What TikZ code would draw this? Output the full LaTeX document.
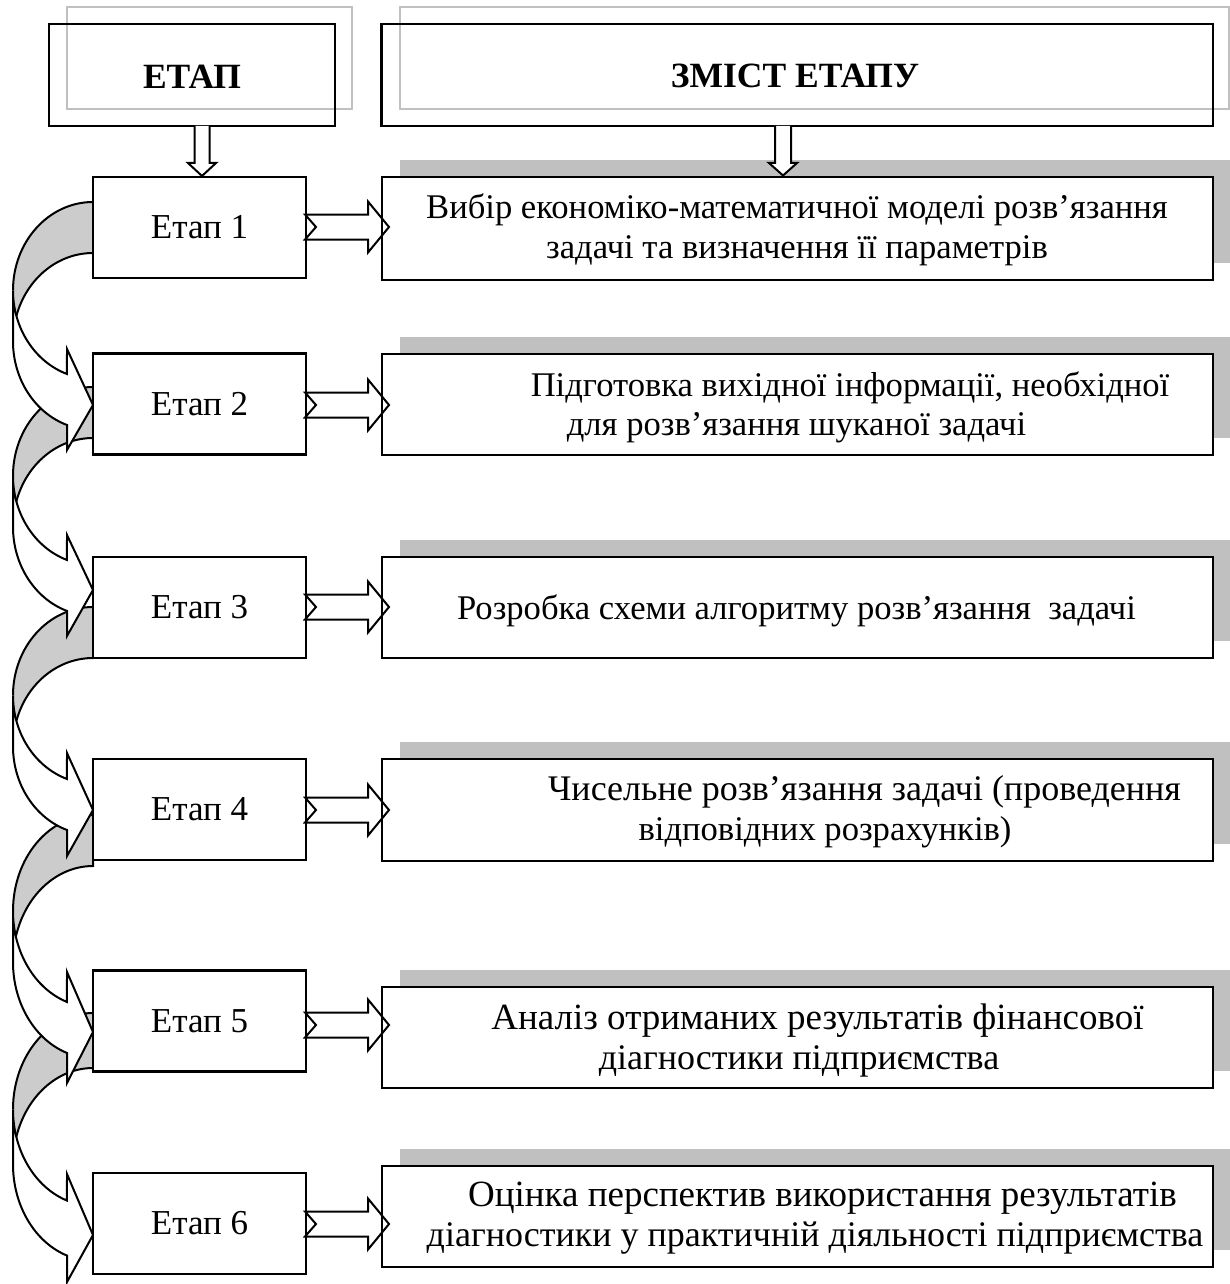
\documentclass[tikz,border=0pt]{standalone}
\usepackage{fontspec}
\setmainfont{Liberation Serif}
\definecolor{shadowgray}{RGB}{192,192,192}
\definecolor{backgray}{RGB}{204,204,204}
\definecolor{hdrgray}{RGB}{192,192,192}
\newcommand{\curvarr}[5]{% T, th, hR, dh, tip  (screen px, y down)
  \pgfmathsetmacro{\cvcA}{#1+#3}%
  \pgfmathsetmacro{\cvcB}{#1+#3+#2}%
  \pgfmathsetmacro{\cvdy}{#3*0.945751}%
  \pgfmathsetmacro{\cvyf}{\cvcA+\cvdy-#4}%
  \pgfmathsetmacro{\cvys}{\cvcB+\cvdy}%
  \pgfmathsetmacro{\cvye}{\cvcB+\cvdy+#4}%
  \pgfmathsetmacro{\cvia}{asin(#2/(2*#3))}%
  \pgfmathsetmacro{\cvTt}{#1+#2}%
  \fill[backgray] (93,-#1) arc[start angle=90, end angle={180+\cvia}, x radius=80, y radius=#3]
      arc[start angle={180-\cvia}, end angle=90, x radius=80, y radius=#3] -- cycle;
  \filldraw[curv, fill=white] (13,-\cvcA) arc[start angle=180, end angle=251.03, x radius=80, y radius=#3]
      -- (67,-\cvyf) -- (93,-#5) -- (67,-\cvye) -- (67,-\cvys)
      arc[start angle=251.03, end angle=180, x radius=80, y radius=#3] -- cycle;
  \draw[curv] (13,-\cvcA) arc[start angle=180, end angle=90, x radius=80, y radius=#3]
      -- (93,-\cvTt) arc[start angle=90, end angle={180-\cvia}, x radius=80, y radius=#3];
}
\newcommand{\rarr}[2]{% from node #1 at screen y #2
  \coordinate (rt#1) at (#1.east |- 0,-#2);
  \filldraw[blockarr] ([shift={(-1,12.5)}]rt#1) -- ++(63,0) -- ++(0,13) -- ++(21,-25.5)
     -- ++(-21,-25.5) -- ++(0,13) -- ++(-63,0) -- ++(11,12.5) -- cycle;
}
\begin{document}
\begin{tikzpicture}[x=1pt,y=1pt,
  blk/.style={draw=black, line width=2.2pt, inner sep=0pt, outer sep=0pt},
  wblk/.style={blk, fill=white},
  curv/.style={draw=black, line width=2pt, line join=miter},
  blockarr/.style={draw=black, fill=white, line width=2pt, line join=miter},
  txt/.style={font=\fontsize{35}{40}\selectfont, anchor=base, inner sep=0pt},
  txtb/.style={font=\fontsize{34.6}{40}\selectfont, anchor=base, inner sep=0pt},
  txtc/.style={font=\fontsize{36}{40}\selectfont, anchor=base, inner sep=0pt},
  txtd/.style={font=\fontsize{37}{40}\selectfont, anchor=base, inner sep=0pt},
  htxt/.style={font=\fontsize{35.5}{40}\selectfont\bfseries, anchor=base, inner sep=0pt}
]
\useasboundingbox (0,0) rectangle (1230,-1284);
\fill[white] (0,0) rectangle (1230,-1284);

% header boxes
\draw[hdrgray, line width=2pt] (67,-7) rectangle (352,-109);
\draw[hdrgray, line width=2pt] (400,-7) rectangle (1229,-109);
\node[blk, minimum width=286, minimum height=102] (h1) at (192,-75) {};
\node[blk, minimum width=831.5, minimum height=102] (h2) at (797.3,-75) {};
\node[htxt] (h1t) at (192,-89) {ЕТАП};
\node[htxt] (h2t) at (795,-88) {ЗМІСТ ЕТАПУ};

% shadows of content boxes
\foreach \yc/\hh in {228.5/103, 404.5/101, 607.5/101, 810/102, 1037.5/101, 1216.5/101}{
  \fill[shadowgray] (400,{-\yc+\hh/2+17}) rectangle (1231,{-\yc-\hh/2+17});
}

% curved arrows (last first)
\curvarr{1013}{55}{96.4}{26.5}{1235}
\curvarr{815}{51}{96.1}{30}{1032}
\curvarr{607}{51}{88.4}{26}{810}
\curvarr{387}{51}{88.9}{25}{590}
\curvarr{202}{51}{88.4}{25}{405}

% stage boxes
\node[wblk, minimum width=213, minimum height=101] (e1) at (199.5,-227.5) {};
\node[wblk, minimum width=213, minimum height=101] (e2) at (199.5,-404) {};
\node[wblk, minimum width=213, minimum height=101] (e3) at (199.5,-607.5) {};
\node[wblk, minimum width=213, minimum height=101] (e4) at (199.5,-809.5) {};
\node[wblk, minimum width=213, minimum height=101] (e5) at (199.5,-1021) {};
\node[wblk, minimum width=213, minimum height=101] (e6) at (199.5,-1223.5) {};

% content boxes
\node[wblk, minimum width=831, minimum height=103] (c1) at (797.5,-228.5) {};
\node[wblk, minimum width=831, minimum height=101] (c2) at (797.5,-404.5) {};
\node[wblk, minimum width=831, minimum height=101] (c3) at (797.5,-607.5) {};
\node[wblk, minimum width=831, minimum height=102] (c4) at (797.5,-810) {};
\node[wblk, minimum width=831, minimum height=101] (c5) at (797.5,-1037.5) {};
\node[wblk, minimum width=831, minimum height=101] (c6) at (797.5,-1216.5) {};

% down arrows from headers
\filldraw[blockarr] ([xshift=2.5]h1.south) -- ++(0,-37) -- ++(-6.5,0) -- ++(14,-13)
   -- ++(14,13) -- ++(-6.5,0) -- ++(0,37);
\filldraw[blockarr] ([xshift=-22.3]h2.south) -- ++(0,-37) -- ++(-6,0) -- ++(14,-12.5)
   -- ++(14,12.5) -- ++(-6,0) -- ++(0,37);

% right block arrows
\rarr{e1}{227}
\rarr{e2}{405}
\rarr{e3}{607}
\rarr{e4}{810}
\rarr{e5}{1025}
\rarr{e6}{1224}

% re-stroke box borders on top
\foreach \n in {e1,e2,e3,e4,e5,e6,c1,c2,c3,c4,c5,c6}{
  \draw[line width=2.2pt] (\n.north west) rectangle (\n.south east);
}

% texts
\node[txt] (e1t) at (199.5,-238.5) {Етап 1};
\node[txt] (e2t) at (199.5,-415) {Етап 2};
\node[txt] (e3t) at (199.5,-618.5) {Етап 3};
\node[txt] (e4t) at (199.5,-820.5) {Етап 4};
\node[txt] (e5t) at (199.5,-1032.5) {Етап 5};
\node[txt] (e6t) at (199.5,-1234.5) {Етап 6};

\node[txtb] (c1a) at (797,-218.5) {Вибір економіко-математичної моделі розв’язання};
\node[txtb] (c1b) at (797,-258) {задачі та визначення її параметрів};
\node[txtb] (c2a) at (850,-396) {Підготовка вихідної інформації, необхідної};
\node[txtb] (c2b) at (796.5,-435.5) {для розв’язання шуканої задачі};
\node[txtb] (c3a) at (796.5,-619) {Розробка схеми алгоритму розв’язання \ задачі};
\node[txtc] (c4a) at (864.5,-800) {Чисельне розв’язання задачі (проведення};
\node[txtb] (c4b) at (825,-840) {відповідних розрахунків)};
\node[txtd] (c5a) at (817.5,-1029.5) {Аналіз отриманих результатів фінансової};
\node[txtc] (c5b) at (799,-1069) {діагностики підприємства};
\node[txtd] (c6a) at (822.5,-1206) {Оцінка перспектив використання результатів};
\node[txtc] (c6b) at (815,-1246) {діагностики у практичній діяльності підприємства};
\end{tikzpicture}
\end{document}
